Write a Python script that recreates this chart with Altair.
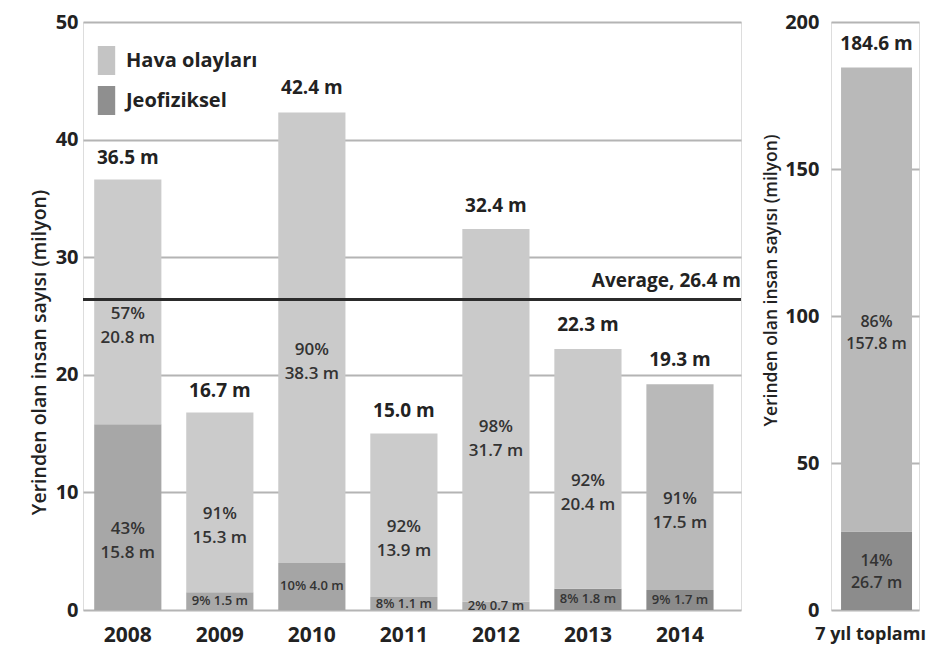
import altair as alt
import pandas as pd

# ---------------- data ----------------
years = ["2008", "2009", "2010", "2011", "2012", "2013", "2014"]
totals = [36.5, 16.7, 42.4, 15.0, 32.4, 22.3, 19.3]
weather_vals = [20.8, 15.3, 38.3, 13.9, 31.7, 20.4, 17.5]
weather_pct = [57, 91, 90, 92, 98, 92, 91]
geo_vals = [15.8, 1.5, 4.0, 1.1, 0.7, 1.8, 1.7]
geo_pct = [43, 9, 10, 8, 2, 8, 9]
average = 26.4
types = ["Hava olayları", "Jeofiziksel"]

sum_category = ["7 yıl toplamı"]
sum_total = [184.6]
sum_vals = [157.8, 26.7]      # weather, geophysical
sum_pct = [86, 14]

# ---------------- style ----------------
FONT = "Open Sans"
TXT = "#222222"
INNER = "#333333"
GRID = "#b4b4b4"
weather_fill = ["#cbcbcb", "#cbcbcb", "#cacaca", "#cbcbcb", "#cacaca", "#cacaca", "#b9b9b9"]
geo_fill = ["#a7a7a7", "#a9a9a9", "#a5a5a5", "#a8a8a8", "#b0b0b0", "#8d8d8d", "#8b8b8b"]
sum_fill = ["#b9b9b9", "#8c8c8c"]
legend_fill = ["#c4c4c4", "#8f8f8f"]

# ---------------- tables ----------------
rows = []
for i, y in enumerate(years):
    rows.append(dict(year=y, type=types[1], order=0, value=geo_vals[i], pct=geo_pct[i], fill=geo_fill[i]))
    rows.append(dict(year=y, type=types[0], order=1, value=weather_vals[i], pct=weather_pct[i], fill=weather_fill[i]))
df = pd.DataFrame(rows)
df["label"] = [
    (f"{p}% {v:.1f} m" if v < 5 else f"{p}%\n{v:.1f} m") for p, v in zip(df["pct"], df["value"])
]

tot_df = pd.DataFrame({"year": years, "total": totals})
tot_df["label"] = [f"{t:.1f} m" for t in totals]

avg_df = pd.DataFrame({"avg": [average], "label": [f"Average, {average} m"]})

sdf = pd.DataFrame({
    "cat": sum_category * 2,
    "type": [types[1], types[0]],
    "order": [0, 1],
    "value": [sum_vals[1], sum_vals[0]],
    "pct": [sum_pct[1], sum_pct[0]],
    "fill": [sum_fill[1], sum_fill[0]],
})
sdf["label"] = [f"{p}%\n{v:.1f} m" for p, v in zip(sdf["pct"], sdf["value"])]
stot_df = pd.DataFrame({"cat": sum_category, "total": sum_total})
stot_df["label"] = [f"{t:.1f} m" for t in sum_total]

LW = 658

# ---------------- left panel ----------------
xscale = alt.Scale(domain=years, paddingInner=0.27, paddingOuter=0.21, align=0.29)
xaxis = alt.Axis(title=None, labelAngle=0, domain=False, ticks=False, grid=False,
                 labelFont=FONT, labelFontSize=21, labelFontWeight="bold",
                 labelColor=TXT, labelPadding=14)
yscale = alt.Scale(domain=[0, 50], nice=False)
yaxis = alt.Axis(values=[0, 10, 20, 30, 40, 50], title="Yerinden olan insan sayısı (milyon)",
                 grid=True, gridColor=GRID, gridWidth=2, domain=False, ticks=False,
                 labelFont=FONT, labelFontSize=20, labelFontWeight="bold", labelColor=TXT,
                 labelPadding=5, titleFont=FONT, titleFontSize=19.5, titleFontWeight=600,
                 titleColor=TXT, titlePadding=6, titleY=330)

bars = alt.Chart(df).mark_bar().encode(
    x=alt.X("year:N", scale=xscale, axis=xaxis),
    y=alt.Y("value:Q", stack="zero", scale=yscale, axis=yaxis),
    fill=alt.Fill("fill:N", scale=None),
    order=alt.Order("order:Q"),
)

seg_base = alt.Chart(df).transform_stack(
    stack="value", groupby=["year"], sort=[alt.SortField("order")], as_=["v0", "v1"]
).transform_calculate(mid="(datum.v0 + datum.v1) / 2")

seg_big = seg_base.transform_filter("datum.value >= 5").mark_text(
    lineBreak="\n", font=FONT, fontWeight=600, fontSize=17, color=INNER, lineHeight=24,
    baseline="middle", dy=12
).encode(x=alt.X("year:N", scale=xscale), y=alt.Y("mid:Q", scale=yscale), text="label:N")

seg_small = seg_base.transform_filter("datum.value < 5").mark_text(
    font=FONT, fontWeight=600, fontSize=13, color=INNER, baseline="middle"
).encode(x=alt.X("year:N", scale=xscale), y=alt.Y("mid:Q", scale=yscale), text="label:N")

tot_text = alt.Chart(tot_df).mark_text(
    dy=-23, font=FONT, fontWeight="bold", fontSize=19, color=TXT, baseline="middle"
).encode(x=alt.X("year:N", scale=xscale), y=alt.Y("total:Q", scale=yscale), text="label:N")

avg_rule = alt.Chart(avg_df).mark_rule(color="#2b2b2b", strokeWidth=3).encode(
    y=alt.Y("avg:Q", scale=yscale)
)
avg_text = alt.Chart(avg_df).mark_text(
    align="right", dy=-19, font=FONT, fontWeight="bold", fontSize=19, color=TXT, baseline="middle"
).encode(x=alt.value(LW), y=alt.Y("avg:Q", scale=yscale), text="label:N")

legend_layer = alt.Chart(pd.DataFrame({"type": types})).mark_point(
    filled=True, opacity=0, size=841
).encode(
    color=alt.Color(
        "type:N",
        scale=alt.Scale(domain=types, range=legend_fill),
        legend=alt.Legend(
            title=None, orient="none", legendX=9, legendY=24,
            symbolType="M-0.6,-1H0.6V1H-0.6Z", symbolSize=841, symbolOpacity=1,
            symbolStrokeWidth=0, labelFont=FONT, labelFontSize=20, labelFontWeight="bold",
            labelColor=TXT, labelOffset=5, rowPadding=11,
        ),
    )
)

left = alt.layer(bars, avg_rule, seg_big, seg_small, tot_text, avg_text, legend_layer).properties(
    width=LW, height=588
)

# ---------------- right panel ----------------
sxscale = alt.Scale(domain=sum_category, paddingInner=0, paddingOuter=0.12, align=0.59)
sxaxis = alt.Axis(title=None, labelAngle=0, domain=False, ticks=False, grid=False,
                  labelFont=FONT, labelFontSize=18, labelFontWeight="bold",
                  labelColor=TXT, labelPadding=15, labelOffset=-6)
syscale = alt.Scale(domain=[0, 200], nice=False)
syaxis = alt.Axis(values=[0, 50, 100, 150, 200], title="Yerinden olan insan sayısı (milyon)",
                  grid=True, gridColor=GRID, gridWidth=2, domain=False, ticks=False,
                  labelFont=FONT, labelFontSize=20, labelFontWeight="bold", labelColor=TXT,
                  labelPadding=12, titleFont=FONT, titleFontSize=17.5, titleFontWeight=600,
                  titleColor=TXT, titlePadding=4, titleY=258)

sbars = alt.Chart(sdf).mark_bar().encode(
    x=alt.X("cat:N", scale=sxscale, axis=sxaxis),
    y=alt.Y("value:Q", stack="zero", scale=syscale, axis=syaxis),
    fill=alt.Fill("fill:N", scale=None),
    order=alt.Order("order:Q"),
)
sseg_base = alt.Chart(sdf).transform_stack(
    stack="value", groupby=["cat"], sort=[alt.SortField("order")], as_=["v0", "v1"]
).transform_calculate(mid="(datum.v0 + datum.v1) / 2")
sseg_w = sseg_base.transform_filter(alt.datum.order == 1).mark_text(
    lineBreak="\n", font=FONT, fontWeight=600, fontSize=16, color=INNER, lineHeight=22,
    baseline="middle", dy=22
).encode(x=alt.X("cat:N", scale=sxscale), y=alt.Y("mid:Q", scale=syscale), text="label:N")
sseg_g = sseg_base.transform_filter(alt.datum.order == 0).mark_text(
    lineBreak="\n", font=FONT, fontWeight=600, fontSize=16, color=INNER, lineHeight=22,
    baseline="middle", dy=-10
).encode(x=alt.X("cat:N", scale=sxscale), y=alt.Y("mid:Q", scale=syscale), text="label:N")
stot = alt.Chart(stot_df).mark_text(
    dy=-23, font=FONT, fontWeight="bold", fontSize=19, color=TXT, baseline="middle"
).encode(x=alt.X("cat:N", scale=sxscale), y=alt.Y("total:Q", scale=syscale), text="label:N")

right = alt.layer(sbars, sseg_w, sseg_g, stot).properties(width=88, height=588)

chart = alt.hconcat(left, right, spacing=19).properties(
    padding={"left": 20, "top": 3, "right": 0, "bottom": 0}
).configure_view(stroke=None).configure(background="white")

chart.save("out.html", embed_options={"renderer": "svg", "actions": False})
